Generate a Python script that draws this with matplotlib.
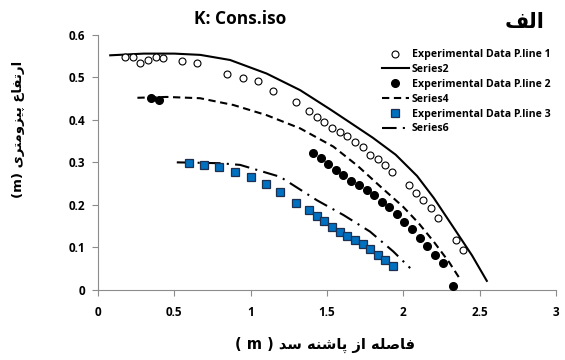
import matplotlib
matplotlib.use("Agg")
import matplotlib.pyplot as plt

# ---------------- data ----------------
exp1_x = [0.177, 0.227, 0.277, 0.330, 0.380, 0.428, 0.548, 0.647, 0.845, 0.948, 1.049,
          1.149, 1.298, 1.381, 1.433, 1.483, 1.533, 1.584, 1.634, 1.684, 1.734, 1.784,
          1.833, 1.881, 1.929, 2.034, 2.084, 2.132, 2.182, 2.230, 2.344, 2.394]
exp1_y = [0.548, 0.548, 0.534, 0.542, 0.547, 0.546, 0.539, 0.533, 0.507, 0.498, 0.491,
          0.468, 0.442, 0.421, 0.407, 0.395, 0.382, 0.371, 0.362, 0.349, 0.337, 0.317,
          0.307, 0.294, 0.277, 0.247, 0.227, 0.211, 0.192, 0.168, 0.117, 0.094]

s2_x = [0.08, 0.30, 0.50, 0.67, 0.865, 1.105, 1.324, 1.52, 1.65, 1.80, 1.95, 2.09, 2.20, 2.33, 2.45, 2.547]
s2_y = [0.552, 0.556, 0.556, 0.553, 0.541, 0.509, 0.470, 0.425, 0.394, 0.358, 0.318, 0.268, 0.216, 0.146, 0.081, 0.021]

exp2_x = [0.347, 0.400, 1.407, 1.459, 1.509, 1.560, 1.608, 1.658, 1.708, 1.761, 1.809,
          1.859, 1.909, 1.957, 2.007, 2.058, 2.108, 2.156, 2.208, 2.259, 2.324]
exp2_y = [0.451, 0.447, 0.322, 0.310, 0.296, 0.283, 0.270, 0.257, 0.247, 0.235, 0.223,
          0.207, 0.194, 0.178, 0.160, 0.143, 0.123, 0.104, 0.083, 0.064, 0.009]

s4_x = [0.258, 0.45, 0.668, 0.887, 1.105, 1.324, 1.542, 1.70, 1.85, 2.00, 2.10, 2.20, 2.30, 2.372]
s4_y = [0.452, 0.454, 0.451, 0.435, 0.411, 0.380, 0.337, 0.292, 0.243, 0.195, 0.157, 0.113, 0.065, 0.025]

exp3_x = [0.598, 0.697, 0.795, 0.896, 1.000, 1.099, 1.195, 1.298, 1.383, 1.433, 1.482,
          1.532, 1.582, 1.634, 1.684, 1.733, 1.784, 1.833, 1.883, 1.931]
exp3_y = [0.299, 0.294, 0.288, 0.277, 0.265, 0.250, 0.230, 0.204, 0.187, 0.174, 0.162,
          0.148, 0.137, 0.127, 0.117, 0.107, 0.096, 0.083, 0.070, 0.055]

s6_x = [0.516, 0.80, 0.931, 1.193, 1.433, 1.608, 1.782, 1.935, 2.045]
s6_y = [0.300, 0.298, 0.294, 0.266, 0.211, 0.176, 0.137, 0.090, 0.051]

x_ticks = [0, 0.5, 1, 1.5, 2, 2.5, 3]
x_tick_labels = ["0", "0.5", "1", "1.5", "2", "2.5", "3"]
y_ticks = [0, 0.1, 0.2, 0.3, 0.4, 0.5, 0.6]
y_tick_labels = ["0", "0.1", "0.2", "0.3", "0.4", "0.5", "0.6"]

legend_labels = ["Experimental Data P.line 1", "Series2", "Experimental Data P.line 2",
                 "Series4", "Experimental Data P.line 3", "Series6"]

title_text = "K: Cons.iso"
panel_text = "الف"
xlabel_ar = "فاصله از پاشنه سد"
ylabel_ar = "ارتفاع پیزومتری"

# ------------- minimal Arabic/Persian shaping (visual order) -------------
FORMS = {
    "\u0627": ("\uFE8D", "\uFE8E", None, None),
    "\u062A": ("\uFE95", "\uFE96", "\uFE97", "\uFE98"),
    "\u062F": ("\uFEA9", "\uFEAA", None, None),
    "\u0631": ("\uFEAD", "\uFEAE", None, None),
    "\u0632": ("\uFEAF", "\uFEB0", None, None),
    "\u0633": ("\uFEB1", "\uFEB2", "\uFEB3", "\uFEB4"),
    "\u0634": ("\uFEB5", "\uFEB6", "\uFEB7", "\uFEB8"),
    "\u0635": ("\uFEB9", "\uFEBA", "\uFEBB", "\uFEBC"),
    "\u0639": ("\uFEC9", "\uFECA", "\uFECB", "\uFECC"),
    "\u0641": ("\uFED1", "\uFED2", "\uFED3", "\uFED4"),
    "\u0644": ("\uFEDD", "\uFEDE", "\uFEDF", "\uFEE0"),
    "\u0645": ("\uFEE1", "\uFEE2", "\uFEE3", "\uFEE4"),
    "\u0646": ("\uFEE5", "\uFEE6", "\uFEE7", "\uFEE8"),
    "\u0647": ("\uFEE9", "\uFEEA", "\uFEEB", "\uFEEC"),
    "\u0648": ("\uFEED", "\uFEEE", None, None),
    "\u067E": ("\uFB56", "\uFB57", "\uFB58", "\uFB59"),
    "\u06CC": ("\uFBFC", "\uFBFD", "\uFBFE", "\uFBFF"),
}


def shape(text):
    out = []
    n = len(text)
    for i, ch in enumerate(text):
        if ch not in FORMS:
            out.append(ch)
            continue
        f = FORMS[ch]
        prev = text[i - 1] if i > 0 else ""
        nxt = text[i + 1] if i < n - 1 else ""
        jp = prev in FORMS and FORMS[prev][2] is not None
        jn = f[2] is not None and nxt in FORMS
        if jp and jn:
            out.append(f[3])
        elif jp:
            out.append(f[1])
        elif jn:
            out.append(f[2])
        else:
            out.append(f[0])
    return "".join(out[::-1])


# ---------------- plot ----------------
plt.rcParams['font.family'] = ['Open Sans', 'DejaVu Sans']
plt.rcParams['font.weight'] = 'bold'

fig = plt.figure(figsize=(5.65, 3.6), dpi=100)
ax = fig.add_axes([0.1735, 0.195, 0.8105, 0.708])

ax.plot(exp1_x, exp1_y, linestyle='none', marker='o', ms=5, mfc='white', mec='black', mew=0.8,
        label=legend_labels[0], zorder=3)
ax.plot(s2_x, s2_y, color='black', lw=1.5, label=legend_labels[1], zorder=2)
ax.plot(exp2_x, exp2_y, linestyle='none', marker='o', ms=5.5, mfc='black', mec='black',
        label=legend_labels[2], zorder=3)
ax.plot(s4_x, s4_y, color='black', lw=1.5, dashes=(3.5, 2.2), label=legend_labels[3], zorder=2)
ax.plot(exp3_x, exp3_y, linestyle='none', marker='s', ms=5.5, mfc='#0070C0', mec='#1F2F4F', mew=0.9,
        label=legend_labels[4], zorder=3)
ax.plot(s6_x, s6_y, color='black', lw=1.5, dashes=(7, 3, 1, 3), label=legend_labels[5], zorder=2)

ax.set_xlim(0, 3)
ax.set_ylim(0, 0.6)
ax.set_xticks(x_ticks)
ax.set_xticklabels(x_tick_labels)
ax.set_yticks(y_ticks)
ax.set_yticklabels(y_tick_labels)
for s in ['top', 'right']:
    ax.spines[s].set_visible(False)
for s in ['left', 'bottom']:
    ax.spines[s].set_color('#8c8c8c')
    ax.spines[s].set_linewidth(0.8)
ax.tick_params(axis='both', direction='out', length=4, width=0.8, color='#8c8c8c',
               labelsize=8.5, pad=5)
ax.tick_params(axis='x', pad=8)
for lab in ax.get_xticklabels() + ax.get_yticklabels():
    lab.set_fontweight('bold')

fig.text(0.425, 0.948, title_text, ha='center', va='center', fontsize=12.5, fontweight='bold')
fig.text(0.928, 0.94, shape(panel_text), ha='center', va='center', fontsize=15, fontweight='bold',
         family=['DejaVu Sans'])

fig.text(0.575, 0.043, "( m ) " + shape(xlabel_ar), ha='center', va='center', fontsize=10.5,
         fontweight='bold', family=['DejaVu Sans'])
fig.text(0.032, 0.64, "(m) " + shape(ylabel_ar), ha='center', va='center', fontsize=9.5,
         fontweight='bold', rotation=90, family=['DejaVu Sans'])

leg = ax.legend(loc='upper left', bbox_to_anchor=(0.61, 0.96), frameon=False,
                handlelength=2.6, handletextpad=0.25, labelspacing=0.36, borderaxespad=0,
                prop={'weight': 'bold', 'size': 7.6, 'family': ['Open Sans']})

fig.savefig("out.png", dpi=100)
